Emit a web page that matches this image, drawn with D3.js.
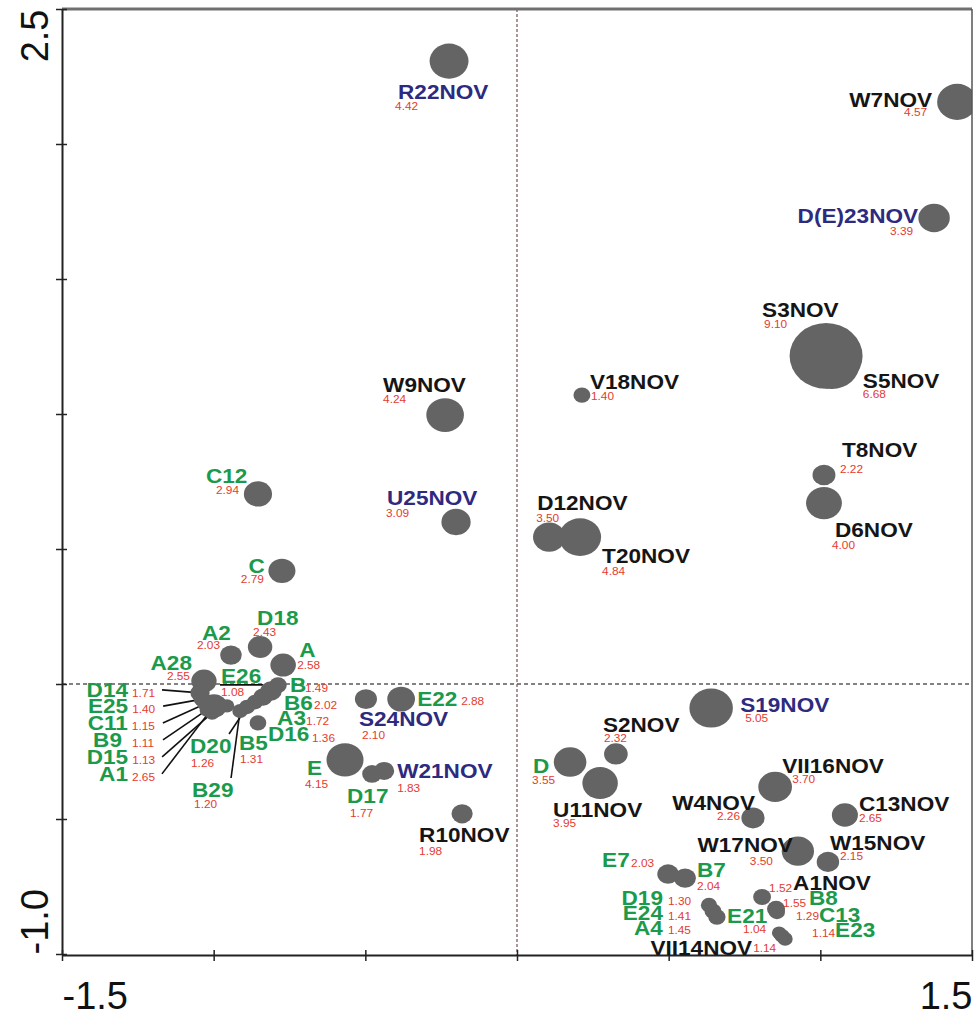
<!DOCTYPE html>
<html>
<head>
<meta charset="utf-8">
<script src="https://d3js.org/d3.v7.min.js"></script>
<style>
  body { margin: 0; background: #fff; }
  svg text { font-family: "Liberation Sans", Arial, sans-serif; }
</style>
</head>
<body>
<div class="chart"></div>
<script>
// Data
var names = ["R22NOV","W7NOV","D(E)23NOV","S3NOV","S5NOV","V18NOV","W9NOV","C12","U25NOV","D12NOV",
  "T20NOV","T8NOV","D6NOV","C","D18","A2","A","A28","D14","E25",
  "C11","B9","D15","A1","E26","B","B6","A3","B5","D20",
  "B29","D16","S24NOV","E22","E","D17","W21NOV","R10NOV","D","U11NOV",
  "S2NOV","S19NOV","VII16NOV","W4NOV","C13NOV","W17NOV","W15NOV","E7","B7","A1NOV",
  "B8","C13","D19","E24","A4","E21","E23","VII14NOV"];
var xs = [-0.224,1.451,1.375,1.019,1.038,0.214,-0.237,-0.854,-0.201,0.106,
  0.208,1.012,1.012,-0.775,-0.847,-0.943,-0.771,-1.032,-1.045,-1.038,
  -1.029,-1.022,-1.005,-0.999,-0.956,-0.788,-0.811,-0.837,-0.864,-0.890,
  -0.913,-0.854,-0.498,-0.382,-0.567,-0.478,-0.438,-0.181,0.175,0.274,
  0.326,0.640,0.851,0.778,1.081,0.926,1.025,0.498,0.554,0.808,
  0.854,0.857,0.633,0.646,0.659,0.864,0.874,0.884];
var ys = [2.307,2.156,1.726,1.215,1.185,1.070,0.996,0.704,0.600,0.544,
  0.544,0.774,0.670,0.419,0.137,0.107,0.070,0.011,-0.033,-0.056,
  -0.074,-0.096,-0.107,-0.081,-0.081,-0.004,-0.026,-0.048,-0.067,-0.085,
  -0.100,-0.144,-0.056,-0.056,-0.281,-0.333,-0.322,-0.481,-0.289,-0.367,
  -0.259,-0.089,-0.381,-0.496,-0.485,-0.619,-0.659,-0.704,-0.719,-0.789,
  -0.833,-0.844,-0.819,-0.841,-0.863,-0.922,-0.933,-0.944];
var sizes = [4.42,4.57,3.39,9.10,6.68,1.40,4.24,2.94,3.09,3.50,
  4.84,2.22,4.00,2.79,2.43,2.03,2.58,2.55,1.71,1.40,
  1.15,1.11,1.13,2.65,1.08,1.49,2.02,1.72,1.31,1.26,
  1.20,1.36,2.10,2.88,4.15,1.77,1.83,1.98,3.55,3.95,
  2.32,5.05,3.70,2.26,2.65,3.50,2.15,2.03,2.04,1.52,
  1.55,1.29,1.30,1.41,1.45,1.04,1.14,1.14];
// n = sampling date (black), b = sampling date (blue), s = station (green)
var kinds = ["b","n","b","n","n","n","n","s","b","n",
  "n","n","n","s","s","s","s","s","s","s",
  "s","s","s","s","s","s","s","s","s","s",
  "s","s","b","s","s","s","b","n","s","n",
  "n","b","n","n","n","n","n","s","s","n",
  "s","s","s","s","s","s","s","n"];
var xTicks = [-1.5, -1.0, -0.5, 0, 0.5, 1.0, 1.5];
var yTicks = [-1.0, -0.5, 0, 0.5, 1.0, 1.5, 2.0, 2.5];
var xTickLabels = ["-1.5", "1.5"];
var yTickLabels = ["-1.0", "2.5"];

// label placement: [label dx, dy, anchor, value dx, dy, anchor] relative to bubble centre
var layout = {
  "R22NOV": [-51, 38, "s", -54, 49, "s"], "W7NOV": [-25, 5, "e", -30, 14, "e"],
  "D(E)23NOV": [-16, 5, "e", -21, 17, "e"], "S3NOV": [-64, -39, "s", -62, -28, "s"],
  "S5NOV": [31, 24, "s", 31, 34, "s"], "V18NOV": [8, -6, "s", 9, 5, "s"],
  "W9NOV": [-62, -23, "s", -62, -12, "s"], "C12": [-52, -11, "s", -42, 0, "s"],
  "U25NOV": [-69, -17, "s", -70, -5, "s"], "D12NOV": [-12, -27, "s", -13, -15, "s"],
  "T20NOV": [22, 26, "s", 22, 38, "s"], "T8NOV": [18, -18, "s", 16, -2, "s"],
  "D6NOV": [11, 34, "s", 8, 46, "s"], "C": [-17, 2, "e", -18, 12, "e"],
  "D18": [-3, -22, "s", -7, -11, "s"], "A2": [-29, -15, "s", -34, -6, "s"],
  "A": [16, -8, "s", 14, 4, "s"], "A28": [-12, -11, "e", -14, -1, "e"],
  "D14": [-72, 4, "e", -68, 4, "s"], "E25": [-74, 14, "e", -70, 14, "s"],
  "C11": [-77, 26, "e", -73, 26, "s"], "B9": [-85, 37, "e", -75, 37, "s"],
  "D15": [-84, 51, "e", -80, 51, "s"], "A1": [-86, 75, "e", -82, 75, "s"],
  "E26": [-6, -23, "s", -6, -10, "s"], "B": [12, 7, "s", 27, 7, "s"],
  "B6": [13, 19, "s", 43, 18, "s"], "A3": [14, 28, "s", 43, 28, "s"],
  "D16": [10, 18, "s", 54, 19, "s"], "B5": [-16, 48, "s", -15, 61, "s"],
  "D20": [-57, 46, "s", -56, 60, "s"], "B29": [-48, 86, "s", -46, 97, "s"],
  "S24NOV": [-7, 27, "s", -4, 40, "s"], "E22": [16, 7, "s", 60, 6, "s"],
  "E": [-38, 15, "s", -40, 28, "s"], "D17": [-25, 29, "s", -22, 43, "s"],
  "W21NOV": [13, 7, "s", 13, 21, "s"], "R10NOV": [-43, 28, "s", -43, 41, "s"],
  "D": [-37, 11, "s", -38, 22, "s"], "U11NOV": [-47, 34, "s", -47, 44, "s"],
  "S2NOV": [-13, -22, "s", -12, -12, "s"], "S19NOV": [29, 4, "s", 34, 14, "s"],
  "VII16NOV": [7, -14, "s", 17, -4, "s"], "W4NOV": [2, -8, "e", -13, 2, "e"],
  "C13NOV": [14, -4, "s", 14, 7, "s"], "W17NOV": [-5, 1, "e", -25, 14, "e"],
  "W15NOV": [2, -12, "s", 12, -2, "s"], "E7": [-66, -7, "s", -37, -7, "s"],
  "B7": [12, -1, "s", 12, 12, "s"], "A1NOV": [31, -7, "s", 7, -5, "s"],
  "B8": [33, -4, "s", 7, -2, "s"], "C13": [42, 10, "s", 19, 8, "s"],
  "D19": [-46, 0, "e", -41, 0, "s"], "E24": [-50, 9, "e", -45, 9, "s"],
  "A4": [-54, 18, "e", -49, 17, "s"], "E21": [-52, -10, "s", -36, 0, "s"],
  "E23": [53, 1, "s", 30, 1, "s"], "VII14NOV": [-33, 16, "e", -32, 13, "s"]
};
// leader lines [x1, y1, x2, y2] relative to bubble centre
var leaders = {
  "D14": [-38, -3, 0, 0], "E25": [-39, 7, 0, 0], "C11": [-42, 19, 0, 0],
  "B9": [-44, 30, 0, 0], "D15": [-50, 44, 0, 0], "A1": [-52, 68, 0, 0],
  "E26": [-7, -21, 36, -21], "D20": [-18, 27, 0, 0], "B29": [-9, 67, 0, 0]
};

var svgWidth = 975, svgHeight = 1015;
var plotLeft = 62, plotRight = 972, plotTop = 9, plotBottom = 955;

var svg = d3.select(".chart")
  .append("svg")
  .attr("width", svgWidth)
  .attr("height", svgHeight);

svg.append("defs").append("clipPath")
  .attr("id", "plotClip")
  .append("rect")
  .attr("x", plotLeft).attr("y", plotTop)
  .attr("width", plotRight - plotLeft).attr("height", plotBottom - plotTop);

// Step 1: scales
var xScale = d3.scaleLinear().domain([-1.5, 1.5]).range([plotLeft, plotRight]);
var yScale = d3.scaleLinear().domain([-1.0, 2.5]).range([plotBottom - 1, plotTop]);
var rScale = d3.scaleLinear().domain([0, 9.1]).range([3.4, 36.5]);

var labelColor = { n: "#151515", b: "#2d2a80", s: "#1c9a4b" };

// Step 2: zero lines
svg.append("line")
  .attr("x1", xScale(0)).attr("x2", xScale(0))
  .attr("y1", plotTop).attr("y2", plotBottom)
  .attr("stroke", "#8a6a6a").attr("stroke-width", 1.4)
  .attr("stroke-dasharray", "3,2");
svg.append("line")
  .attr("x1", plotLeft).attr("x2", plotRight)
  .attr("y1", yScale(0)).attr("y2", yScale(0))
  .attr("stroke", "#5a5a5a").attr("stroke-width", 1.3)
  .attr("stroke-dasharray", "4,3");

// Step 3: leader lines, then bubbles (clipped to the frame)
var idx = d3.range(names.length);
var px = i => xScale(xs[i]);
var py = i => yScale(ys[i]);

svg.append("g").selectAll("line")
  .data(idx.filter(i => leaders[names[i]]))
  .enter()
  .append("line")
  .attr("x1", i => px(i) + leaders[names[i]][0])
  .attr("y1", i => py(i) + leaders[names[i]][1])
  .attr("x2", i => px(i) + leaders[names[i]][2])
  .attr("y2", i => py(i) + leaders[names[i]][3])
  .attr("stroke", "#111").attr("stroke-width", 1.6);

svg.append("g")
  .attr("clip-path", "url(#plotClip)")
  .selectAll("ellipse")
  .data(idx)
  .enter()
  .append("ellipse")
  .attr("cx", px)
  .attr("cy", py)
  .attr("rx", i => rScale(sizes[i]))
  .attr("ry", i => rScale(sizes[i]) * 0.9)
  .attr("fill", "#646464");

// frame top/right
svg.append("line").attr("x1", plotLeft).attr("x2", plotRight).attr("y1", plotTop).attr("y2", plotTop)
  .attr("stroke", "#707070").attr("stroke-width", 3);
svg.append("line").attr("x1", plotRight).attr("x2", plotRight).attr("y1", plotTop).attr("y2", plotBottom)
  .attr("stroke", "#555").attr("stroke-width", 1.5);

// Step 4: axes
var fmt = d => d.toFixed(1);
var bottomAxis = d3.axisBottom(xScale).tickValues(xTicks).tickSizeInner(6).tickSizeOuter(0)
  .tickFormat(d => xTickLabels.indexOf(fmt(d)) >= 0 ? fmt(d) : "");
var leftAxis = d3.axisLeft(yScale).tickValues(yTicks).tickSizeInner(6).tickSizeOuter(0)
  .tickFormat(d => yTickLabels.indexOf(fmt(d)) >= 0 ? fmt(d) : "");

var gx = svg.append("g")
  .attr("transform", `translate(0, ${plotBottom})`)
  .call(bottomAxis);
gx.select(".domain").attr("stroke", "#222").attr("stroke-width", 2);
gx.selectAll(".tick line").attr("y1", -5).attr("y2", 6).attr("stroke", "#222").attr("stroke-width", 1.5);
gx.selectAll(".tick text")
  .attr("font-size", 38).attr("fill", "#111").attr("y", 27).attr("dy", "0.71em")
  .attr("text-anchor", d => d < 0 ? "start" : "end");

var gy = svg.append("g")
  .attr("transform", `translate(${plotLeft}, 0)`)
  .call(leftAxis);
gy.select(".domain").attr("stroke", "#222").attr("stroke-width", 2);
gy.selectAll(".tick line").attr("x1", -6).attr("x2", 5).attr("stroke", "#222").attr("stroke-width", 1.5);
gy.selectAll(".tick text")
  .attr("font-size", 38).attr("fill", "#111")
  .attr("x", null).attr("dy", null)
  .attr("transform", "translate(-14, 0) rotate(-90)")
  .attr("text-anchor", d => d > 0 ? "end" : "start");

// Step 5: labels
var anchor = a => a == "e" ? "end" : "start";
var labels = svg.append("g");
labels.selectAll("text.name")
  .data(idx)
  .enter()
  .append("text")
  .attr("class", "name")
  .attr("transform", i => `translate(${px(i) + layout[names[i]][0]}, ${py(i) + layout[names[i]][1]}) scale(1.13, 1)`)
  .attr("text-anchor", i => anchor(layout[names[i]][2]))
  .attr("font-size", 20)
  .attr("font-weight", "bold")
  .attr("fill", i => labelColor[kinds[i]])
  .text(i => names[i]);

labels.selectAll("text.val")
  .data(idx)
  .enter()
  .append("text")
  .attr("class", "val")
  .attr("transform", i => `translate(${px(i) + layout[names[i]][3]}, ${py(i) + layout[names[i]][4]}) scale(1.13, 1)`)
  .attr("text-anchor", i => anchor(layout[names[i]][5]))
  .attr("font-size", 10.5)
  .attr("fill", "#e53b30")
  .text(i => sizes[i].toFixed(2));
</script>
</body>
</html>
